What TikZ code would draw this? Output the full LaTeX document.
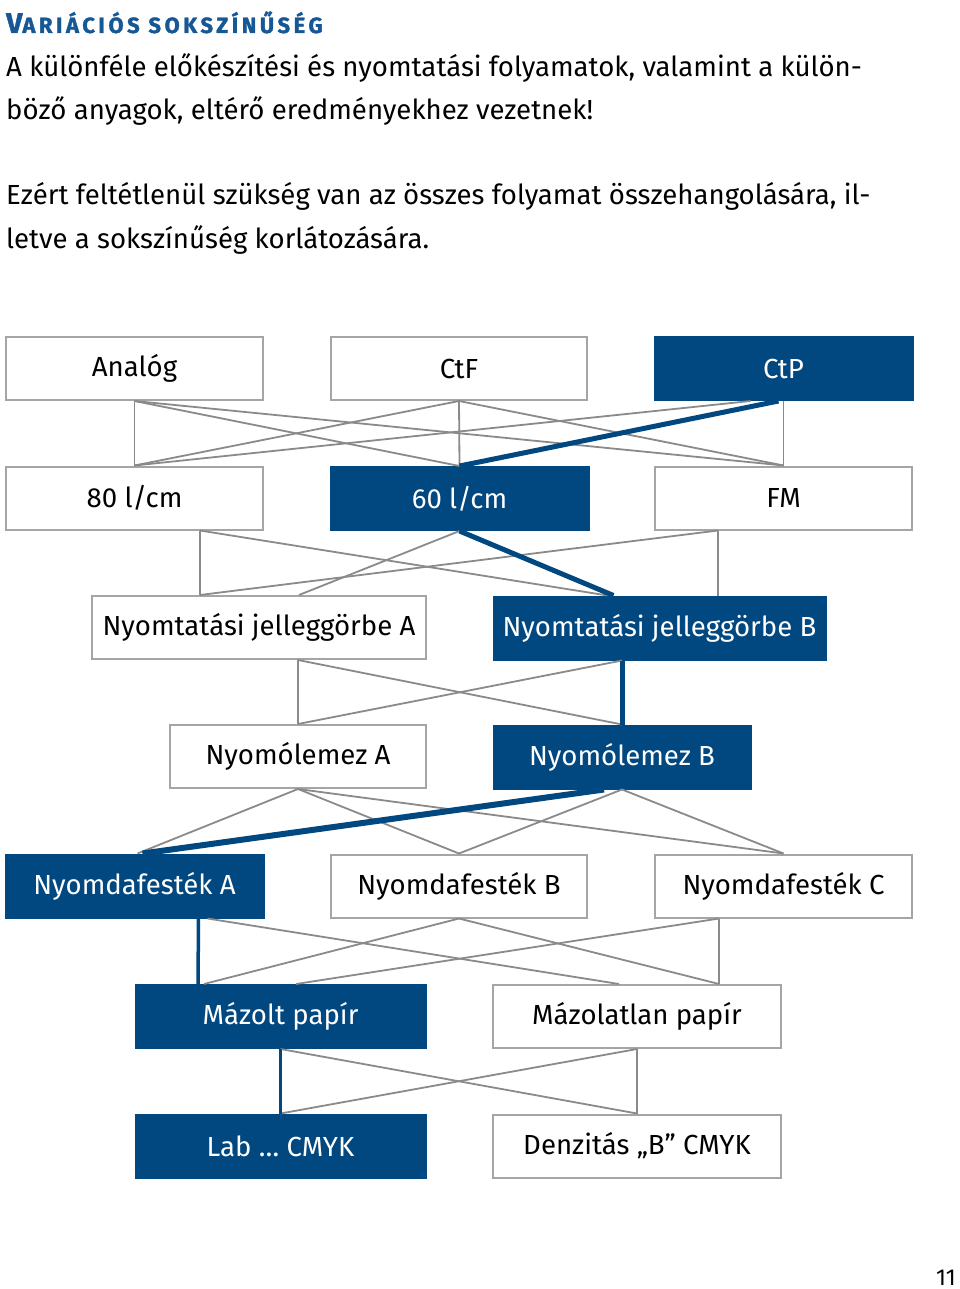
\documentclass[tikz,border=0pt]{standalone}
\usepackage{fontspec}
\setmainfont{Fira Sans}
\definecolor{dblue}{RGB}{0,72,127}
\definecolor{tblue}{RGB}{22,88,150}
\definecolor{lgray}{RGB}{138,138,138}
\definecolor{bgray}{RGB}{165,165,165}
\newcommand{\bodyfont}{\fontsize{27.6}{43}\selectfont}
\begin{document}
\begin{tikzpicture}[x=1pt,y=-1pt,
  box/.style={draw=bgray,line width=2pt,fill=white,minimum height=63pt,inner sep=0pt,font=\bodyfont,text=black},
  sel/.style={draw=dblue,line width=1pt,fill=dblue,minimum height=64pt,inner sep=0pt,font=\bodyfont,text=white},
  ln/.style={draw=lgray,line width=1.8pt},
  hl/.style={draw=dblue,line width=5pt},
  txt/.style={anchor=base west,inner sep=0pt,font=\bodyfont}]
\useasboundingbox (0,0) rectangle (960,1289);

% heading and paragraph
\node[txt,text=tblue,font=\bfseries] (title) at (6,33)
  {\addfontfeature{LetterSpace=16,FakeBold=1.5}\fontsize{28.5}{30}\selectfont V\fontsize{22}{30}\selectfont ARIÁCIÓS SOKSZÍNŰSÉG};
\node[txt] (t1) at (6,77) {A különféle előkészítési és nyomtatási folyamatok, valamint a külön-};
\node[txt] (t2) at (6,120) {böző anyagok, eltérő eredményekhez vezetnek!};
\node[txt] (t3) at (6,205) {Ezért feltétlenül szükség van az összes folyamat összehangolására, il-};
\node[txt] (t4) at (6,248) {letve a sokszínűség korlátozására.};

% row 1
\node[box,minimum width=257pt] (ana) at (134.5,368.5) {Analóg};
\node[box,minimum width=256pt] (ctf) at (459,368.5) {CtF};
\node[sel,minimum width=259pt] (ctp) at (783.5,368.5) {CtP};
% row 2
\node[box,minimum width=257pt] (l80) at (134.5,498) {80 l/cm};
\node[sel,minimum width=259pt] (l60) at (459.5,498.5) {60 l/cm};
\node[box,minimum width=257pt] (fm) at (783.5,498) {FM};
% row 3
\node[box,minimum width=334pt] (nja) at (259,627.5) {Nyomtatási jelleggörbe A};
\node[sel,minimum width=333pt] (njb) at (659.5,628) {Nyomtatási jelleggörbe B};
% row 4
\node[box,minimum width=256pt] (pla) at (298,756.5) {Nyomólemez A};
\node[sel,minimum width=258pt] (plb) at (622,757) {Nyomólemez B};
% row 5
\node[sel,minimum width=259pt] (inka) at (134.5,886) {Nyomdafesték A};
\node[box,minimum width=256pt] (inkb) at (459,886) {Nyomdafesték B};
\node[box,minimum width=257pt] (inkc) at (783.5,886) {Nyomdafesték C};
% row 6
\node[sel,minimum width=291pt] (maz) at (280.5,1016.5) {Mázolt papír};
\node[box,minimum width=288pt] (mazl) at (637,1016.5) {Mázolatlan papír};
% row 7
\node[sel,minimum width=291pt] (lab) at (280.5,1146) {Lab … CMYK};
\node[box,minimum width=288pt] (den) at (637,1146) {Denzitás „B” CMYK};

% page number
\node[anchor=base,inner sep=0pt,font=\fontsize{23}{23}\selectfont] (pg) at (946,1285) {11};

% connectors row 1 -> row 2
\draw[ln] (ana.south) -- (l80.north);
\draw[ln] (ana.south) -- (l60.north);
\draw[ln] (ana.south) -- (fm.north);
\draw[ln] (ctf.south) -- (l80.north);
\draw[ln] (ctf.south) -- (l60.north);
\draw[ln] (ctf.south) -- (fm.north);
\draw[ln] ([xshift=-33pt]ctp.south) -- (l80.north);
\draw[ln] (ctp.south) -- (fm.north);
\draw[hl] ([xshift=-5pt]ctp.south) -- (l60.north);

% row 2 -> row 3
\draw[ln] ([xshift=65.5pt]l80.south) -- ([xshift=-59pt]nja.north);
\draw[ln] ([xshift=65.5pt]l80.south) -- ([xshift=-52pt]njb.north);
\draw[ln] (l60.south) -- ([xshift=40pt]nja.north);
\draw[ln] ([xshift=-65.5pt]fm.south) -- ([xshift=-59pt]nja.north);
\draw[ln] ([xshift=-65.5pt]fm.south) -- ([xshift=58.5pt]njb.north);
\draw[hl] (l60.south) -- ([xshift=-46pt]njb.north);

% row 3 -> row 4
\draw[ln] ([xshift=39pt]nja.south) -- (pla.north);
\draw[ln] ([xshift=39pt]nja.south) -- (plb.north);
\draw[ln] ([xshift=-37.5pt]njb.south) -- (pla.north);
\draw[hl] ([xshift=-37.5pt]njb.south) -- (plb.north);

% row 4 -> row 5
\draw[ln] (pla.south) -- ([xshift=3pt]inka.north);
\draw[ln] (pla.south) -- (inkb.north);
\draw[ln] (pla.south) -- (inkc.north);
\draw[ln] (plb.south) -- (inkb.north);
\draw[ln] (plb.south) -- (inkc.north);
\draw[hl,line width=6pt] ([xshift=-18pt]plb.south) -- ([xshift=8pt]inka.north);

% row 5 -> row 6
\draw[ln] ([xshift=73pt]inka.south) -- ([xshift=-18pt]mazl.north);
\draw[ln] (inkb.south) -- ([xshift=-76.5pt]maz.north);
\draw[ln] (inkb.south) -- ([xshift=82pt]mazl.north);
\draw[ln] ([xshift=-64.5pt]inkc.south) -- ([xshift=82pt]mazl.north);
\draw[ln] ([xshift=-64.5pt]inkc.south) -- ([xshift=15.5pt]maz.north);
\draw[hl,line width=3.5pt] ([xshift=64pt]inka.south) -- ([xshift=-82.5pt]maz.north);

% row 6 -> row 7
\draw[ln] (maz.south) -- (den.north);
\draw[ln] (mazl.south) -- (den.north);
\draw[ln] (mazl.south) -- (lab.north);
\draw[hl,line width=3.5pt] (maz.south) -- (lab.north);
\end{tikzpicture}
\end{document}
